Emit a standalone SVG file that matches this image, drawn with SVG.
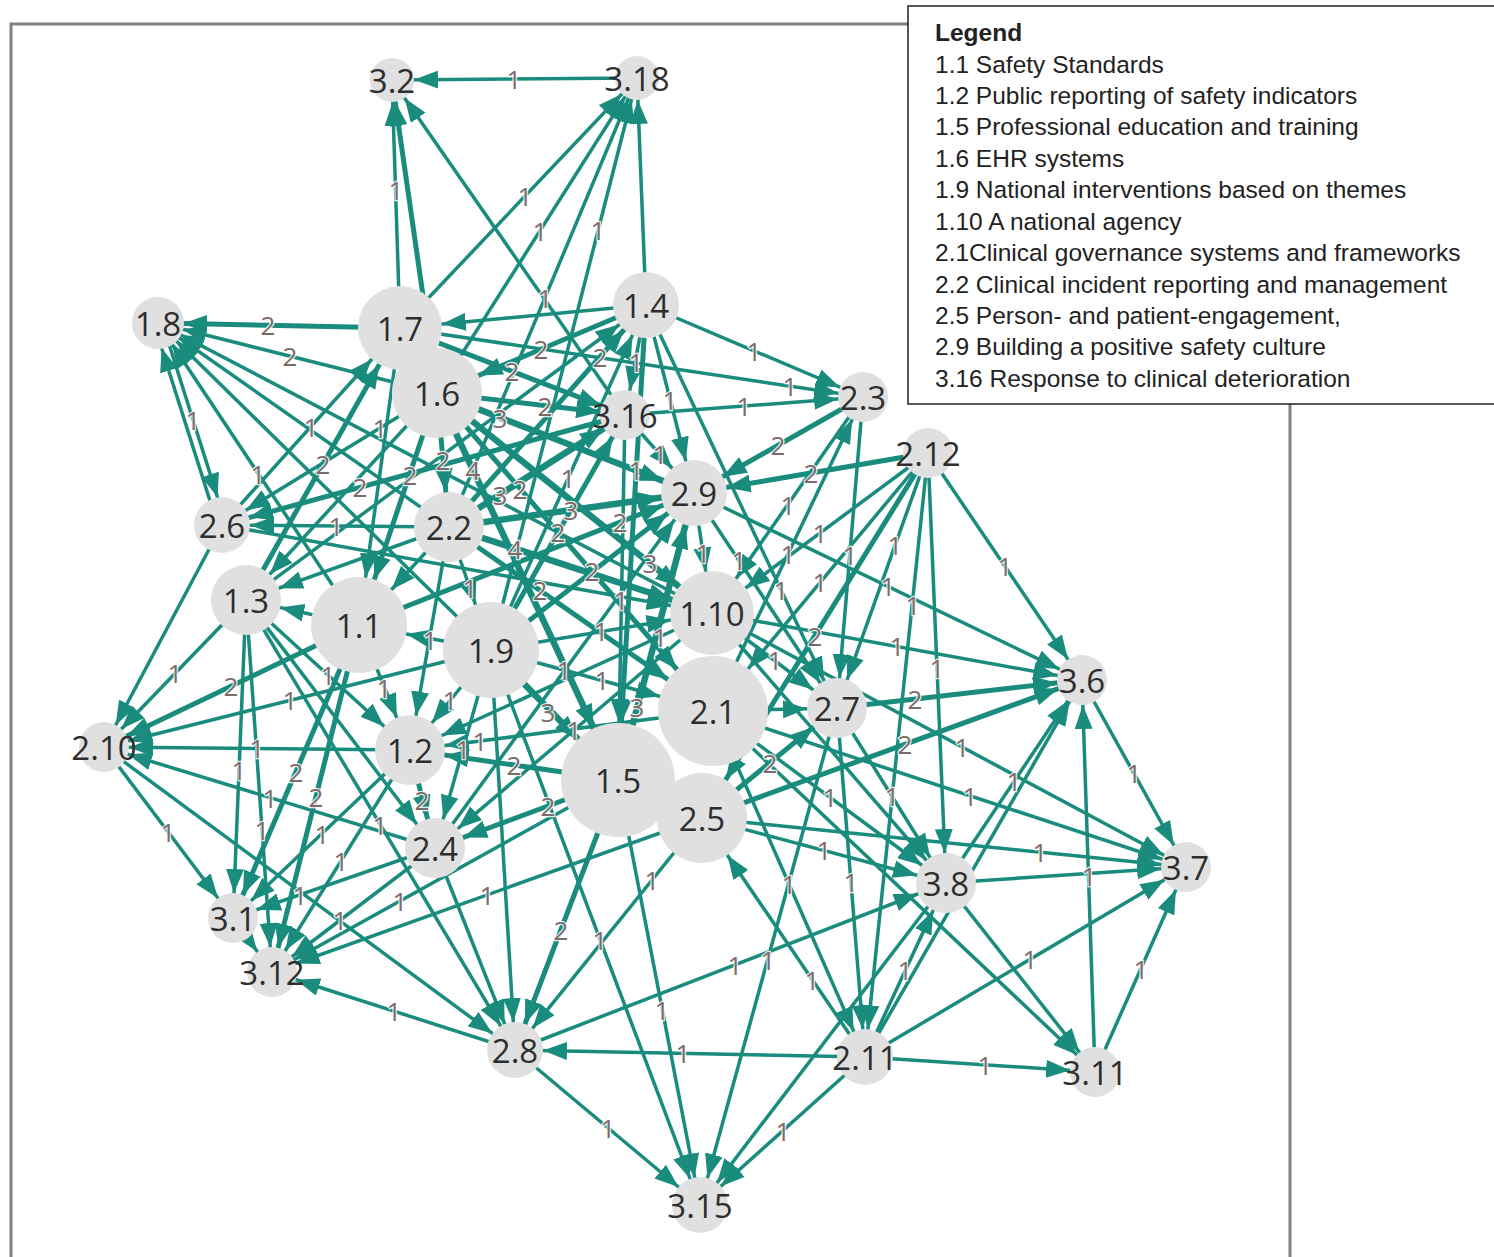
<svg xmlns="http://www.w3.org/2000/svg" width="1494" height="1257" viewBox="0 0 1494 1257">
<style>
.e{stroke:#1a8c7d;stroke-width:3.5;fill:none}
.w2{stroke-width:5}
.w3{stroke-width:6.5}
.el{font-family:"Open Sans","DejaVu Sans",sans-serif;font-size:26px;fill:#7d6a6a;text-anchor:middle;dominant-baseline:central;stroke:#ffffff;stroke-width:2.5;stroke-opacity:0.85;paint-order:stroke}
.nc{fill:#e0e0e0}
.nt{font-family:"Open Sans","DejaVu Sans",sans-serif;font-size:33px;fill:#2e2e2e;text-anchor:middle;dominant-baseline:central}
.lg{font-family:"Liberation Sans",Arial,sans-serif;font-size:24.5px;fill:#222222;dominant-baseline:central}
.lgb{font-weight:bold}
</style>
<defs>
<marker id="m22" markerUnits="userSpaceOnUse" markerWidth="24" markerHeight="18" refX="46" refY="9" orient="auto"><path d="M0,0L24,9L0,18z" fill="#1a8c7d"/></marker>
<marker id="m25" markerUnits="userSpaceOnUse" markerWidth="24" markerHeight="18" refX="49" refY="9" orient="auto"><path d="M0,0L24,9L0,18z" fill="#1a8c7d"/></marker>
<marker id="m28" markerUnits="userSpaceOnUse" markerWidth="24" markerHeight="18" refX="52" refY="9" orient="auto"><path d="M0,0L24,9L0,18z" fill="#1a8c7d"/></marker>
<marker id="m30" markerUnits="userSpaceOnUse" markerWidth="24" markerHeight="18" refX="54" refY="9" orient="auto"><path d="M0,0L24,9L0,18z" fill="#1a8c7d"/></marker>
<marker id="m33" markerUnits="userSpaceOnUse" markerWidth="24" markerHeight="18" refX="57" refY="9" orient="auto"><path d="M0,0L24,9L0,18z" fill="#1a8c7d"/></marker>
<marker id="m35" markerUnits="userSpaceOnUse" markerWidth="24" markerHeight="18" refX="59" refY="9" orient="auto"><path d="M0,0L24,9L0,18z" fill="#1a8c7d"/></marker>
<marker id="m42" markerUnits="userSpaceOnUse" markerWidth="24" markerHeight="18" refX="66" refY="9" orient="auto"><path d="M0,0L24,9L0,18z" fill="#1a8c7d"/></marker>
<marker id="m45" markerUnits="userSpaceOnUse" markerWidth="24" markerHeight="18" refX="69" refY="9" orient="auto"><path d="M0,0L24,9L0,18z" fill="#1a8c7d"/></marker>
<marker id="m48" markerUnits="userSpaceOnUse" markerWidth="24" markerHeight="18" refX="72" refY="9" orient="auto"><path d="M0,0L24,9L0,18z" fill="#1a8c7d"/></marker>
<marker id="m55" markerUnits="userSpaceOnUse" markerWidth="24" markerHeight="18" refX="79" refY="9" orient="auto"><path d="M0,0L24,9L0,18z" fill="#1a8c7d"/></marker>
<marker id="m57" markerUnits="userSpaceOnUse" markerWidth="24" markerHeight="18" refX="81" refY="9" orient="auto"><path d="M0,0L24,9L0,18z" fill="#1a8c7d"/></marker>
</defs>
<rect x="0" y="0" width="1494" height="1257" fill="#ffffff"/>
<rect id="frame" x="11" y="24" width="1279" height="1260" fill="none" stroke="#808080" stroke-width="3"/>
<g id="connectors" class="e">
<line x1="637" y1="78" x2="392" y2="80" marker-end="url(#m22)"/>
<line x1="400" y1="328" x2="392" y2="80" marker-end="url(#m22)"/>
<line x1="437" y1="393" x2="392" y2="80" class="w2" marker-end="url(#m22)"/>
<line x1="625" y1="415" x2="392" y2="80" marker-end="url(#m22)"/>
<line x1="400" y1="328" x2="637" y2="78" marker-end="url(#m22)"/>
<line x1="437" y1="393" x2="637" y2="78" marker-end="url(#m22)"/>
<line x1="449" y1="527" x2="637" y2="78" marker-end="url(#m22)"/>
<line x1="491" y1="650" x2="637" y2="78" marker-end="url(#m22)"/>
<line x1="646" y1="305" x2="637" y2="78" marker-end="url(#m22)"/>
<line x1="400" y1="328" x2="158" y2="323" class="w2" marker-end="url(#m25)"/>
<line x1="437" y1="393" x2="158" y2="323" marker-end="url(#m25)"/>
<line x1="162" y1="322" x2="226" y2="524" marker-end="url(#m28)"/>
<line x1="218" y1="526" x2="154" y2="324" marker-end="url(#m25)"/>
<line x1="359" y1="625" x2="158" y2="323" marker-end="url(#m25)"/>
<line x1="449" y1="527" x2="158" y2="323" marker-end="url(#m25)"/>
<line x1="491" y1="650" x2="158" y2="323" marker-end="url(#m25)"/>
<line x1="712" y1="613" x2="158" y2="323" marker-end="url(#m25)"/>
<line x1="222" y1="525" x2="400" y2="328" marker-end="url(#m42)"/>
<line x1="246" y1="600" x2="400" y2="328" class="w2" marker-end="url(#m42)"/>
<line x1="646" y1="305" x2="400" y2="328" marker-end="url(#m42)"/>
<line x1="646" y1="305" x2="437" y2="393" class="w2" marker-end="url(#m45)"/>
<line x1="400" y1="328" x2="625" y2="415" class="w2" marker-end="url(#m25)"/>
<line x1="646" y1="305" x2="863" y2="397" marker-end="url(#m25)"/>
<line x1="400" y1="328" x2="863" y2="397" marker-end="url(#m25)"/>
<line x1="646" y1="305" x2="694" y2="493" marker-end="url(#m33)"/>
<line x1="646" y1="305" x2="625" y2="415" marker-end="url(#m25)"/>
<line x1="646" y1="305" x2="837" y2="708" marker-end="url(#m30)"/>
<line x1="449" y1="527" x2="646" y2="305" class="w2" marker-end="url(#m33)"/>
<line x1="491" y1="650" x2="646" y2="305" marker-end="url(#m33)"/>
<line x1="646" y1="305" x2="618" y2="780" class="w2" marker-end="url(#m57)"/>
<line x1="246" y1="600" x2="646" y2="305" marker-end="url(#m33)"/>
<line x1="625" y1="415" x2="863" y2="397" marker-end="url(#m25)"/>
<line x1="437" y1="393" x2="625" y2="415" class="w2" marker-end="url(#m25)"/>
<line x1="625" y1="415" x2="694" y2="493" marker-end="url(#m33)"/>
<line x1="449" y1="527" x2="625" y2="415" class="w3" marker-end="url(#m25)"/>
<line x1="491" y1="650" x2="625" y2="415" class="w2" marker-end="url(#m25)"/>
<line x1="625" y1="415" x2="618" y2="780" marker-end="url(#m57)"/>
<line x1="863" y1="397" x2="694" y2="493" class="w2" marker-end="url(#m33)"/>
<line x1="863" y1="397" x2="837" y2="708" marker-end="url(#m30)"/>
<line x1="863" y1="397" x2="712" y2="613" marker-end="url(#m42)"/>
<line x1="713" y1="711" x2="863" y2="397" marker-end="url(#m25)"/>
<line x1="928" y1="453" x2="694" y2="493" class="w2" marker-end="url(#m33)"/>
<line x1="928" y1="453" x2="1082" y2="680" marker-end="url(#m25)"/>
<line x1="928" y1="453" x2="946" y2="883" marker-end="url(#m30)"/>
<line x1="928" y1="453" x2="837" y2="708" marker-end="url(#m30)"/>
<line x1="928" y1="453" x2="713" y2="711" marker-end="url(#m55)"/>
<line x1="928" y1="453" x2="712" y2="613" marker-end="url(#m42)"/>
<line x1="928" y1="453" x2="702" y2="818" class="w2" marker-end="url(#m45)"/>
<line x1="694" y1="493" x2="1082" y2="680" marker-end="url(#m25)"/>
<line x1="694" y1="493" x2="837" y2="708" marker-end="url(#m30)"/>
<line x1="694" y1="493" x2="712" y2="613" marker-end="url(#m42)"/>
<line x1="449" y1="527" x2="694" y2="493" class="w3" marker-end="url(#m33)"/>
<line x1="437" y1="393" x2="694" y2="493" class="w3" marker-end="url(#m33)"/>
<line x1="359" y1="625" x2="694" y2="493" class="w2" marker-end="url(#m33)"/>
<line x1="618" y1="780" x2="694" y2="493" class="w3" marker-end="url(#m33)"/>
<line x1="435" y1="848" x2="694" y2="493" marker-end="url(#m33)"/>
<line x1="712" y1="613" x2="1082" y2="680" marker-end="url(#m25)"/>
<line x1="837" y1="708" x2="1082" y2="680" class="w2" marker-end="url(#m25)"/>
<line x1="702" y1="818" x2="1082" y2="680" class="w2" marker-end="url(#m25)"/>
<line x1="946" y1="883" x2="1082" y2="680" marker-end="url(#m25)"/>
<line x1="1095" y1="1072" x2="1082" y2="680" marker-end="url(#m25)"/>
<line x1="865" y1="1057" x2="1082" y2="680" marker-end="url(#m25)"/>
<line x1="1082" y1="680" x2="1186" y2="867" marker-end="url(#m25)"/>
<line x1="712" y1="613" x2="1186" y2="867" marker-end="url(#m25)"/>
<line x1="713" y1="711" x2="1186" y2="867" marker-end="url(#m25)"/>
<line x1="702" y1="818" x2="1186" y2="867" marker-end="url(#m25)"/>
<line x1="946" y1="883" x2="1186" y2="867" marker-end="url(#m25)"/>
<line x1="865" y1="1057" x2="1186" y2="867" marker-end="url(#m25)"/>
<line x1="1095" y1="1072" x2="1186" y2="867" marker-end="url(#m25)"/>
<line x1="837" y1="708" x2="946" y2="883" marker-end="url(#m30)"/>
<line x1="713" y1="711" x2="946" y2="883" marker-end="url(#m30)"/>
<line x1="702" y1="818" x2="946" y2="883" marker-end="url(#m30)"/>
<line x1="865" y1="1057" x2="946" y2="883" marker-end="url(#m30)"/>
<line x1="515" y1="1050" x2="946" y2="883" marker-end="url(#m30)"/>
<line x1="946" y1="883" x2="1095" y2="1072" marker-end="url(#m25)"/>
<line x1="713" y1="711" x2="1095" y2="1072" marker-end="url(#m25)"/>
<line x1="712" y1="613" x2="946" y2="883" marker-end="url(#m30)"/>
<line x1="865" y1="1057" x2="515" y2="1050" marker-end="url(#m28)"/>
<line x1="865" y1="1057" x2="1095" y2="1072" marker-end="url(#m25)"/>
<line x1="865" y1="1057" x2="700" y2="1205" marker-end="url(#m28)"/>
<line x1="946" y1="883" x2="700" y2="1205" marker-end="url(#m28)"/>
<line x1="865" y1="1057" x2="702" y2="818" marker-end="url(#m45)"/>
<line x1="713" y1="711" x2="865" y2="1057" marker-end="url(#m28)"/>
<line x1="837" y1="708" x2="865" y2="1057" marker-end="url(#m28)"/>
<line x1="928" y1="453" x2="865" y2="1057" marker-end="url(#m28)"/>
<line x1="515" y1="1050" x2="272" y2="972" marker-end="url(#m25)"/>
<line x1="515" y1="1050" x2="700" y2="1205" marker-end="url(#m28)"/>
<line x1="702" y1="818" x2="515" y2="1050" marker-end="url(#m28)"/>
<line x1="618" y1="780" x2="515" y2="1050" class="w2" marker-end="url(#m28)"/>
<line x1="435" y1="848" x2="515" y2="1050" marker-end="url(#m28)"/>
<line x1="246" y1="600" x2="515" y2="1050" marker-end="url(#m28)"/>
<line x1="104" y1="747" x2="515" y2="1050" marker-end="url(#m28)"/>
<line x1="491" y1="650" x2="515" y2="1050" marker-end="url(#m28)"/>
<line x1="491" y1="650" x2="700" y2="1205" marker-end="url(#m28)"/>
<line x1="618" y1="780" x2="700" y2="1205" marker-end="url(#m28)"/>
<line x1="837" y1="708" x2="700" y2="1205" marker-end="url(#m28)"/>
<line x1="233" y1="918" x2="272" y2="972" marker-end="url(#m25)"/>
<line x1="435" y1="848" x2="272" y2="972" marker-end="url(#m25)"/>
<line x1="410" y1="750" x2="272" y2="972" marker-end="url(#m25)"/>
<line x1="618" y1="780" x2="272" y2="972" marker-end="url(#m25)"/>
<line x1="702" y1="818" x2="272" y2="972" marker-end="url(#m25)"/>
<line x1="359" y1="625" x2="272" y2="972" class="w2" marker-end="url(#m25)"/>
<line x1="104" y1="747" x2="233" y2="918" marker-end="url(#m25)"/>
<line x1="246" y1="600" x2="272" y2="972" marker-end="url(#m25)"/>
<line x1="246" y1="600" x2="233" y2="918" marker-end="url(#m25)"/>
<line x1="359" y1="625" x2="233" y2="918" class="w2" marker-end="url(#m25)"/>
<line x1="435" y1="848" x2="233" y2="918" marker-end="url(#m25)"/>
<line x1="410" y1="750" x2="233" y2="918" marker-end="url(#m25)"/>
<line x1="246" y1="600" x2="104" y2="747" marker-end="url(#m25)"/>
<line x1="359" y1="625" x2="104" y2="747" class="w2" marker-end="url(#m25)"/>
<line x1="491" y1="650" x2="104" y2="747" marker-end="url(#m25)"/>
<line x1="410" y1="750" x2="104" y2="747" marker-end="url(#m25)"/>
<line x1="435" y1="848" x2="104" y2="747" marker-end="url(#m25)"/>
<line x1="222" y1="525" x2="104" y2="747" marker-end="url(#m25)"/>
<line x1="449" y1="527" x2="222" y2="525" marker-end="url(#m28)"/>
<line x1="437" y1="393" x2="222" y2="525" marker-end="url(#m28)"/>
<line x1="625" y1="415" x2="222" y2="525" class="w2" marker-end="url(#m28)"/>
<line x1="359" y1="625" x2="246" y2="600" marker-end="url(#m35)"/>
<line x1="449" y1="527" x2="246" y2="600" marker-end="url(#m35)"/>
<line x1="246" y1="600" x2="410" y2="750" marker-end="url(#m35)"/>
<line x1="246" y1="600" x2="435" y2="848" marker-end="url(#m30)"/>
<line x1="437" y1="393" x2="246" y2="600" marker-end="url(#m35)"/>
<line x1="437" y1="393" x2="359" y2="625" class="w2" marker-end="url(#m48)"/>
<line x1="449" y1="527" x2="359" y2="625" marker-end="url(#m48)"/>
<line x1="491" y1="650" x2="359" y2="625" marker-end="url(#m48)"/>
<line x1="359" y1="625" x2="410" y2="750" marker-end="url(#m35)"/>
<line x1="400" y1="328" x2="359" y2="625" marker-end="url(#m48)"/>
<line x1="437" y1="393" x2="449" y2="527" class="w2" marker-end="url(#m35)"/>
<line x1="437" y1="393" x2="712" y2="613" class="w3" marker-end="url(#m42)"/>
<line x1="437" y1="393" x2="618" y2="780" class="w3" marker-end="url(#m57)"/>
<line x1="437" y1="393" x2="713" y2="711" class="w2" marker-end="url(#m55)"/>
<line x1="449" y1="527" x2="491" y2="650" marker-end="url(#m48)"/>
<line x1="449" y1="527" x2="712" y2="613" class="w3" marker-end="url(#m42)"/>
<line x1="449" y1="527" x2="713" y2="711" class="w2" marker-end="url(#m55)"/>
<line x1="449" y1="527" x2="410" y2="750" marker-end="url(#m35)"/>
<line x1="491" y1="650" x2="712" y2="613" marker-end="url(#m42)"/>
<line x1="491" y1="650" x2="713" y2="711" marker-end="url(#m55)"/>
<line x1="491" y1="650" x2="618" y2="780" class="w3" marker-end="url(#m57)"/>
<line x1="491" y1="650" x2="410" y2="750" marker-end="url(#m35)"/>
<line x1="491" y1="650" x2="435" y2="848" marker-end="url(#m30)"/>
<line x1="491" y1="650" x2="694" y2="493" class="w2" marker-end="url(#m33)"/>
<line x1="712" y1="613" x2="837" y2="708" marker-end="url(#m30)"/>
<line x1="712" y1="613" x2="410" y2="750" marker-end="url(#m35)"/>
<line x1="712" y1="613" x2="435" y2="848" marker-end="url(#m30)"/>
<line x1="713" y1="711" x2="837" y2="708" marker-end="url(#m30)"/>
<line x1="713" y1="711" x2="410" y2="750" marker-end="url(#m35)"/>
<line x1="618" y1="780" x2="410" y2="750" class="w2" marker-end="url(#m35)"/>
<line x1="618" y1="780" x2="435" y2="848" class="w2" marker-end="url(#m30)"/>
<line x1="410" y1="750" x2="435" y2="848" class="w2" marker-end="url(#m30)"/>
<line x1="702" y1="818" x2="837" y2="708" class="w2" marker-end="url(#m30)"/>
<line x1="222" y1="525" x2="712" y2="613" marker-end="url(#m42)"/>
</g>
<g id="edge-labels" class="el">
<text x="514" y="79">1</text><text x="396" y="190">1</text><text x="525" y="196">1</text><text x="540" y="231">1</text>
<text x="545" y="298">1</text><text x="598" y="230">1</text><text x="268" y="325">2</text><text x="290" y="356">2</text>
<text x="193" y="420">1</text><text x="258" y="474">1</text><text x="311" y="427">1</text><text x="323" y="464">2</text>
<text x="541" y="349">2</text><text x="512" y="371">2</text><text x="754" y="351">1</text><text x="790" y="386">1</text>
<text x="670" y="400">1</text><text x="636" y="362">1</text><text x="781" y="590">1</text><text x="600" y="357">2</text>
<text x="568" y="478">1</text><text x="636" y="470">1</text><text x="744" y="406">1</text><text x="545" y="406">2</text>
<text x="660" y="454">1</text><text x="500" y="495">3</text><text x="558" y="532">2</text><text x="621" y="600">1</text>
<text x="778" y="445">2</text><text x="850" y="555">1</text><text x="788" y="505">1</text><text x="788" y="554">1</text>
<text x="811" y="473">2</text><text x="1005" y="566">1</text><text x="937" y="668">1</text><text x="895" y="545">1</text>
<text x="820" y="582">1</text><text x="820" y="533">1</text><text x="815" y="636">2</text><text x="888" y="586">1</text>
<text x="739" y="560">1</text><text x="703" y="553">1</text><text x="571" y="510">3</text><text x="500" y="418">3</text>
<text x="620" y="522">2</text><text x="637" y="707">3</text><text x="564" y="670">1</text><text x="897" y="646">1</text>
<text x="915" y="699">2</text><text x="905" y="744">2</text><text x="1014" y="781">1</text><text x="1089" y="876">1</text>
<text x="1134" y="773">1</text><text x="962" y="747">1</text><text x="970" y="796">1</text><text x="1040" y="852">1</text>
<text x="1030" y="959">1</text><text x="1141" y="969">1</text><text x="892" y="796">1</text><text x="830" y="797">1</text>
<text x="824" y="850">1</text><text x="905" y="970">1</text><text x="735" y="965">1</text><text x="683" y="1053">1</text>
<text x="985" y="1065">1</text><text x="783" y="1131">1</text><text x="812" y="980">1</text><text x="789" y="884">1</text>
<text x="851" y="882">1</text><text x="913" y="605">1</text><text x="394" y="1011">1</text><text x="608" y="1128">1</text>
<text x="652" y="880">1</text><text x="561" y="930">2</text><text x="380" y="825">1</text><text x="600" y="940">1</text>
<text x="662" y="1010">1</text><text x="768" y="960">1</text><text x="340" y="920">1</text><text x="341" y="861">1</text>
<text x="400" y="901">1</text><text x="487" y="895">1</text><text x="316" y="797">2</text><text x="168" y="832">1</text>
<text x="262" y="830">1</text><text x="239" y="770">1</text><text x="296" y="772">2</text><text x="300" y="895">1</text>
<text x="322" y="834">1</text><text x="175" y="673">1</text><text x="231" y="686">2</text><text x="290" y="700">1</text>
<text x="257" y="748">1</text><text x="270" y="798">1</text><text x="336" y="526">1</text><text x="380" y="428">1</text>
<text x="360" y="487">2</text><text x="328" y="675">1</text><text x="410" y="475">2</text><text x="384" y="688">1</text>
<text x="443" y="460">2</text><text x="650" y="563">3</text><text x="473" y="470">4</text><text x="520" y="489">2</text>
<text x="470" y="588">1</text><text x="515" y="549">4</text><text x="540" y="590">2</text><text x="430" y="640">1</text>
<text x="601" y="631">1</text><text x="602" y="680">1</text><text x="548" y="712">3</text><text x="450" y="700">1</text>
<text x="463" y="749">1</text><text x="592" y="571">2</text><text x="775" y="660">1</text><text x="660" y="637">1</text>
<text x="574" y="730">1</text><text x="480" y="741">1</text><text x="514" y="765">2</text><text x="548" y="806">2</text>
<text x="422" y="800">2</text><text x="770" y="763">2</text>
</g>
<g id="n-3-2"><circle class="nc" cx="392" cy="80" r="22"/><text class="nt" x="392" y="80">3.2</text></g>
<g id="n-3-18"><circle class="nc" cx="637" cy="78" r="22"/><text class="nt" x="637" y="78">3.18</text></g>
<g id="n-1-8"><circle class="nc" cx="158" cy="323" r="26"/><text class="nt" x="158" y="323">1.8</text></g>
<g id="n-1-7"><circle class="nc" cx="400" cy="328" r="42"/><text class="nt" x="400" y="328">1.7</text></g>
<g id="n-1-4"><circle class="nc" cx="646" cy="305" r="33"/><text class="nt" x="646" y="305">1.4</text></g>
<g id="n-1-6"><circle class="nc" cx="437" cy="393" r="45"/><text class="nt" x="437" y="393">1.6</text></g>
<g id="n-3-16"><circle class="nc" cx="625" cy="415" r="25"/><text class="nt" x="625" y="415">3.16</text></g>
<g id="n-2-3"><circle class="nc" cx="863" cy="397" r="25"/><text class="nt" x="863" y="397">2.3</text></g>
<g id="n-2-12"><circle class="nc" cx="928" cy="453" r="25"/><text class="nt" x="928" y="453">2.12</text></g>
<g id="n-2-9"><circle class="nc" cx="694" cy="493" r="33"/><text class="nt" x="694" y="493">2.9</text></g>
<g id="n-2-6"><circle class="nc" cx="222" cy="525" r="28"/><text class="nt" x="222" y="525">2.6</text></g>
<g id="n-2-2"><circle class="nc" cx="449" cy="527" r="35"/><text class="nt" x="449" y="527">2.2</text></g>
<g id="n-1-3"><circle class="nc" cx="246" cy="600" r="35"/><text class="nt" x="246" y="600">1.3</text></g>
<g id="n-1-1"><circle class="nc" cx="359" cy="625" r="48"/><text class="nt" x="359" y="625">1.1</text></g>
<g id="n-1-9"><circle class="nc" cx="491" cy="650" r="48"/><text class="nt" x="491" y="650">1.9</text></g>
<g id="n-1-10"><circle class="nc" cx="712" cy="613" r="42"/><text class="nt" x="712" y="613">1.10</text></g>
<g id="n-3-6"><circle class="nc" cx="1082" cy="680" r="25"/><text class="nt" x="1082" y="680">3.6</text></g>
<g id="n-2-1"><circle class="nc" cx="713" cy="711" r="55"/><text class="nt" x="713" y="711">2.1</text></g>
<g id="n-2-7"><circle class="nc" cx="837" cy="708" r="30"/><text class="nt" x="837" y="708">2.7</text></g>
<g id="n-2-10"><circle class="nc" cx="104" cy="747" r="25"/><text class="nt" x="104" y="747">2.10</text></g>
<g id="n-1-2"><circle class="nc" cx="410" cy="750" r="35"/><text class="nt" x="410" y="750">1.2</text></g>
<g id="n-1-5"><circle class="nc" cx="618" cy="780" r="57"/><text class="nt" x="618" y="780">1.5</text></g>
<g id="n-2-5"><circle class="nc" cx="702" cy="818" r="45"/><text class="nt" x="702" y="818">2.5</text></g>
<g id="n-3-7"><circle class="nc" cx="1186" cy="867" r="25"/><text class="nt" x="1186" y="867">3.7</text></g>
<g id="n-3-8"><circle class="nc" cx="946" cy="883" r="30"/><text class="nt" x="946" y="883">3.8</text></g>
<g id="n-2-4"><circle class="nc" cx="435" cy="848" r="30"/><text class="nt" x="435" y="848">2.4</text></g>
<g id="n-3-1"><circle class="nc" cx="233" cy="918" r="25"/><text class="nt" x="233" y="918">3.1</text></g>
<g id="n-3-12"><circle class="nc" cx="272" cy="972" r="25"/><text class="nt" x="272" y="972">3.12</text></g>
<g id="n-2-8"><circle class="nc" cx="515" cy="1050" r="28"/><text class="nt" x="515" y="1050">2.8</text></g>
<g id="n-2-11"><circle class="nc" cx="865" cy="1057" r="28"/><text class="nt" x="865" y="1057">2.11</text></g>
<g id="n-3-11"><circle class="nc" cx="1095" cy="1072" r="25"/><text class="nt" x="1095" y="1072">3.11</text></g>
<g id="n-3-15"><circle class="nc" cx="700" cy="1205" r="28"/><text class="nt" x="700" y="1205">3.15</text></g>
<g id="legend">
<rect x="908" y="6" width="600" height="398" fill="#ffffff" stroke="#222222" stroke-width="1.5"/>
<text class="lg lgb" x="935" y="32">Legend</text>
<text class="lg" x="935" y="64">1.1 Safety Standards</text>
<text class="lg" x="935" y="95">1.2 Public reporting of safety indicators</text>
<text class="lg" x="935" y="126">1.5 Professional education and training</text>
<text class="lg" x="935" y="158">1.6 EHR systems</text>
<text class="lg" x="935" y="189">1.9 National interventions based on themes</text>
<text class="lg" x="935" y="221">1.10 A national agency</text>
<text class="lg" x="935" y="252">2.1Clinical governance systems and frameworks</text>
<text class="lg" x="935" y="284">2.2 Clinical incident reporting and management</text>
<text class="lg" x="935" y="315">2.5 Person- and patient-engagement,</text>
<text class="lg" x="935" y="346">2.9 Building a positive safety culture</text>
<text class="lg" x="935" y="378">3.16 Response to clinical deterioration</text>
</g>
</svg>
